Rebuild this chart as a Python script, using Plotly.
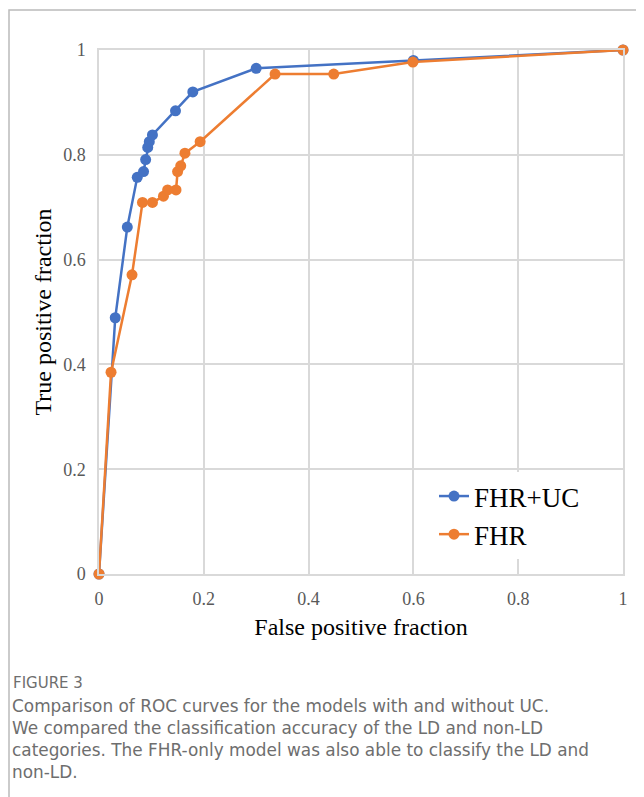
import plotly.graph_objects as go

# FHR+UC model ROC points
fhr_uc_fpr = [0.0, 0.031, 0.054, 0.073, 0.085, 0.089, 0.093, 0.096, 0.102, 0.146, 0.179, 0.300, 0.600, 1.0]
fhr_uc_tpr = [0.0, 0.489, 0.662, 0.757, 0.768, 0.791, 0.814, 0.825, 0.838, 0.884, 0.920, 0.965, 0.980, 1.0]

# FHR-only model ROC points
fhr_fpr = [0.0, 0.023, 0.063, 0.083, 0.102, 0.123, 0.131, 0.147, 0.150, 0.156, 0.164, 0.193, 0.336, 0.448, 0.599, 1.0]
fhr_tpr = [0.0, 0.385, 0.571, 0.709, 0.709, 0.721, 0.733, 0.733, 0.768, 0.779, 0.803, 0.825, 0.954, 0.954, 0.977, 1.0]

series_names = ["FHR+UC", "FHR"]
series_colors = ["#4472C4", "#ED7D31"]

x_ticks = [0, 0.2, 0.4, 0.6, 0.8, 1]
x_tick_labels = ["0", "0.2", "0.4", "0.6", "0.8", "1"]
y_ticks = [0, 0.2, 0.4, 0.6, 0.8, 1]
y_tick_labels = ["0", "0.2", "0.4", "0.6", "0.8", "1"]

x_title = "False positive fraction"
y_title = "True positive fraction"

caption_head = "FIGURE 3"
caption_lines = [
    "Comparison of ROC curves for the models with and without UC.",
    "We compared the classification accuracy of the LD and non-LD",
    "categories. The FHR-only model was also able to classify the LD and",
    "non-LD.",
]

# page body adds an 8px offset; the figure is sized to fit the window
OFF = 8
W, H = 644 - OFF, 797 - OFF
PLOT_L, PLOT_R, PLOT_T, PLOT_B = 99, 623, 50, 574  # page pixel positions
L, T = PLOT_L - OFF, PLOT_T - OFF
R, B = W - (PLOT_R - OFF), H - (PLOT_B - OFF)
PW, PH = PLOT_R - PLOT_L, PLOT_B - PLOT_T


def px_x(px):
    return (px - PLOT_L) / PW


def px_y(py):
    return (PLOT_B - py) / PH


serif = "Liberation Serif, Times New Roman, serif"
sans = "DejaVu Sans, Open Sans, sans-serif"

fig = go.Figure()
for xs, ys, name, color in [
    (fhr_uc_fpr, fhr_uc_tpr, series_names[0], series_colors[0]),
    (fhr_fpr, fhr_tpr, series_names[1], series_colors[1]),
]:
    fig.add_trace(go.Scatter(
        x=xs, y=ys, name=name, mode="lines+markers",
        line=dict(color=color, width=2.5),
        marker=dict(color=color, size=11),
        cliponaxis=False,
    ))

axis_common = dict(
    range=[0, 1],
    showgrid=True, gridcolor="#d9d9d9", gridwidth=1.5,
    zeroline=False,
    showline=True, linecolor="#d9d9d9", linewidth=1.5, mirror=True,
    ticks="", tickfont=dict(family=serif, size=18, color="#595959"),
    ticklabelstandoff=8,
)

fig.update_xaxes(
    **axis_common,
    tickvals=x_ticks, ticktext=x_tick_labels,
    title=dict(text=x_title, font=dict(family=serif, size=24, color="#000000"), standoff=10),
)
fig.update_yaxes(
    **axis_common,
    tickvals=y_ticks, ticktext=y_tick_labels,
    title=dict(text=y_title, font=dict(family=serif, size=24, color="#000000"), standoff=5),
)

annotations = [
    dict(
        text=caption_head, xref="paper", yref="paper",
        x=px_x(11), y=px_y(683), xanchor="left", yanchor="middle",
        showarrow=False, font=dict(family=sans, size=15, color="#6e6e6e"),
    ),
    dict(
        text="<br>".join(caption_lines), xref="paper", yref="paper",
        x=px_x(10), y=px_y(739), xanchor="left", yanchor="middle", align="left",
        showarrow=False, font=dict(family=sans, size=16.9, color="#6e6e6e"),
    ),
]

fig.update_layout(
    width=W, height=H, autosize=False,
    margin=dict(l=L, r=R, t=T, b=B, pad=0),
    paper_bgcolor="white", plot_bgcolor="white",
    showlegend=True,
    legend=dict(
        x=px_x(434), y=px_y(472), xanchor="left", yanchor="top",
        font=dict(family=serif, size=27, color="#000000"),
        bgcolor="rgba(255,255,255,1)", itemwidth=30, tracegroupgap=0,
    ),
    annotations=annotations,
    shapes=[dict(
        type="rect", xref="paper", yref="paper",
        x0=px_x(9), x1=px_x(660), y0=px_y(820), y1=px_y(10),
        line=dict(color="#bbbbbb", width=1.5), fillcolor="rgba(0,0,0,0)", layer="below",
    )],
)

fig.write_html("out.html")
